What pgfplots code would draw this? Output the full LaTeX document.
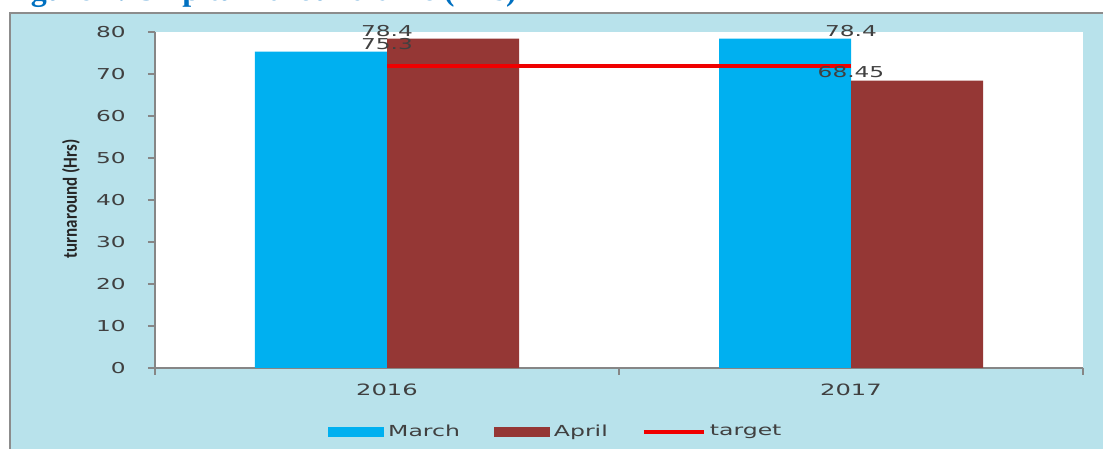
\documentclass[border=0pt]{standalone}
\usepackage{pgfplots}
\pgfplotsset{compat=1.18}
\usepackage{fontspec}
\newfontfamily\chartfont[FakeStretch=1.55]{DejaVu Sans}
\newfontfamily\labelfont[FakeStretch=0.85]{Carlito}
\newfontfamily\titlefont{Liberation Serif}
\definecolor{bgblue}{RGB}{184,226,235}
\definecolor{framegray}{RGB}{140,140,140}
\definecolor{axisgray}{RGB}{134,134,134}
\definecolor{textgray}{RGB}{64,64,64}
\definecolor{marchblue}{RGB}{0,176,240}
\definecolor{aprilred}{RGB}{149,55,53}
\definecolor{targetred}{RGB}{240,0,0}
\definecolor{titleblue}{RGB}{0,112,192}
\begin{document}
\begin{tikzpicture}[x=1pt,y=1pt]
\useasboundingbox (0,0) rectangle (551.5,224.5);
\fill[bgblue] (5,-2) rectangle (553,218);
\draw[framegray, line width=0.8pt] (5,-2) -- (5,218) -- (553,218);
\node[anchor=base west, inner sep=0pt, text=titleblue, font=\titlefont\bfseries\fontsize{16}{19}\selectfont] at (1,224.3) {Figure 4: Ship turnaround time (Hrs)};
\begin{axis}[
  at={(77.5pt,40.5pt)}, anchor=south west,
  scale only axis, width=464pt, height=168pt,
  xmin=-0.5, xmax=1.5, ymin=0, ymax=80,
  clip=false,
  axis background/.style={fill=white},
  axis lines=left,
  axis line style={-, draw=axisgray, line width=0.6pt},
  tick align=outside,
  major tick length=3.5pt,
  tick style={draw=axisgray, line width=0.6pt},
  xtick={-0.5,0.5,1.5}, xticklabels={},
  extra x ticks={0,1}, extra x tick labels={2016,2017},
  extra x tick style={major tick length=0pt, tick style={draw=none}},
  xticklabel style={anchor=north, inner sep=0pt, yshift=-8pt, text=textgray, font=\chartfont\fontsize{7.8}{9}\selectfont},
  ytick={0,10,...,80},
  yticklabel style={anchor=east, inner sep=0pt, xshift=-11pt, text=textgray, font=\chartfont\fontsize{7.5}{9}\selectfont},
  /pgf/number format/assume math mode=true,
  ylabel={turnaround (Hrs)},
  ylabel style={at={(axis description cs:-0.0905,0.503)}, anchor=center, font=\labelfont\bfseries\fontsize{10}{12}\selectfont, text=black!85},
  legend columns=3,
  legend style={at={(axis description cs:0.4330,-0.1905)}, anchor=center, draw=none, fill=none,
    font=\chartfont\fontsize{7.6}{9}\selectfont, text=textgray,
    /tikz/every even column/.append style={column sep=15pt}},
  legend cell align=left,
]
\addplot[ybar, bar width=66pt, bar shift=-33pt, fill=marchblue, draw=none,
  point meta=explicit symbolic,
  nodes near coords, nodes near coords style={anchor=south, inner sep=1pt, text=textgray, font=\chartfont\fontsize{7.5}{9}\selectfont},
  legend image code/.code={\fill[marchblue] (0pt,-2.5pt) rectangle (28pt,2.5pt);}]
  coordinates {(0,75.3) [75.3] (1,78.4) [78.4]};
\addlegendentry{March}
\addplot[ybar, bar width=66pt, bar shift=33pt, fill=aprilred, draw=none,
  point meta=explicit symbolic,
  nodes near coords, nodes near coords style={anchor=south, inner sep=1pt, text=textgray, font=\chartfont\fontsize{7.5}{9}\selectfont},
  legend image code/.code={\fill[aprilred] (0pt,-2.5pt) rectangle (28pt,2.5pt);}]
  coordinates {(0,78.4) [78.4] (1,68.45) [68.45]};
\addlegendentry{April}
\addplot[sharp plot, draw=targetred, line width=2pt, mark=none,
  legend image code/.code={\draw[targetred, line width=2pt] (0pt,0pt) -- (30pt,0pt);}]
  coordinates {(0,72) (1,72)};
\addlegendentry{target}
\end{axis}
\end{tikzpicture}
\end{document}
